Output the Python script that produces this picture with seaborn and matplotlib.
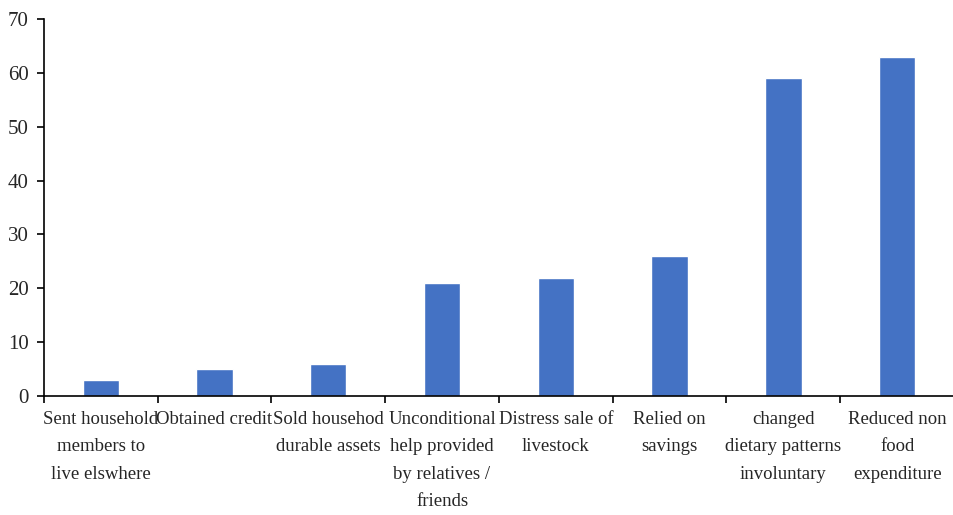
import numpy as np
import matplotlib.pyplot as plt
import seaborn as sns

categories = [
    "Sent household\nmembers to\nlive elswhere",
    "Obtained credit",
    "Sold househod\ndurable assets",
    "Unconditional\nhelp provided\nby relatives /\nfriends",
    "Distress sale of\nlivestock",
    "Relied on\nsavings",
    "changed\ndietary patterns\ninvoluntary",
    "Reduced non\nfood\nexpenditure",
]
values = [3, 5, 6, 21, 22, 26, 59, 63]
y_ticks = [0, 10, 20, 30, 40, 50, 60, 70]

sns.set_style("white")
plt.rcParams["font.family"] = ["Liberation Serif", "DejaVu Serif"]

fig = plt.figure(figsize=(9.54, 5.15), dpi=100)
ax = fig.add_axes([0.046, 0.231, 0.954, 0.732])

sns.barplot(x=list(range(len(values))), y=values, color="#4472C4",
            saturation=1, width=0.32, ax=ax)

ax.set_xlim(-0.5, len(values) - 0.5)
ax.set_ylim(0, 70)
ax.set_yticks(y_ticks)
ax.set_xticks(range(len(values)))
ax.set_xticklabels(categories, fontsize=13.5, linespacing=1.78)
ax.set_xticks(np.arange(-0.5, len(values) + 0.5, 1), minor=True)
ax.tick_params(axis="x", which="major", length=0, pad=11)
ax.tick_params(axis="x", which="minor", length=5, width=1.2, color="black",
               direction="out", bottom=True)
ax.tick_params(axis="y", length=5, width=1.2, color="black", direction="out",
               left=True, labelsize=15, pad=6)
ax.set_xlabel("")
ax.set_ylabel("")

for side in ["top", "right"]:
    ax.spines[side].set_visible(False)
for side in ["left", "bottom"]:
    ax.spines[side].set_color("black")
    ax.spines[side].set_linewidth(1.2)

fig.savefig("out.png", dpi=100)
